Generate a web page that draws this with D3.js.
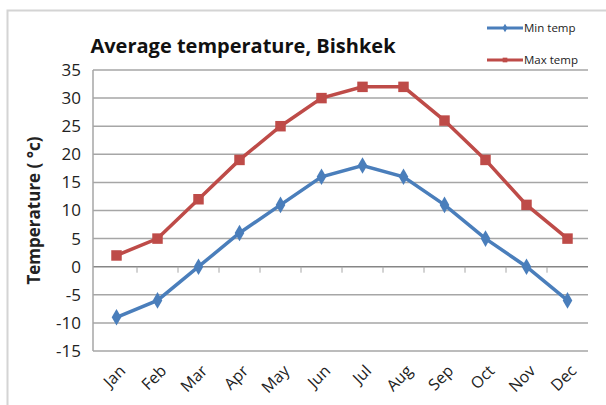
<!DOCTYPE html>
<html>
<head>
<meta charset="utf-8">
<script src="https://cdn.jsdelivr.net/npm/d3@7"></script>
<style>
  body { margin: 0; background: #fff; }
  svg text { font-family: "Open Sans", sans-serif; }
</style>
</head>
<body>
<div id="myChart"></div>
<script>
const months = ["Jan", "Feb", "Mar", "Apr", "May", "Jun", "Jul", "Aug", "Sep", "Oct", "Nov", "Dec"]
const minTemp = [-9, -6, 0, 6, 11, 16, 18, 16, 11, 5, 0, -6]
const maxTemp = [2, 5, 12, 19, 25, 30, 32, 32, 26, 19, 11, 5]
const yTicks = [-15, -10, -5, 0, 5, 10, 15, 20, 25, 30, 35]

let width = 606
let height = 405

let svg = d3.select("#myChart")
  .append("svg")
  .attr("width", width)
  .attr("height", height)

// chart area frame
svg.append("rect")
  .attr("x", 7.5).attr("y", 10.5)
  .attr("width", 620).attr("height", 420)
  .attr("fill", "#fff")
  .attr("stroke", "#d4d4d4")
  .attr("stroke-width", 2)

let x = d3.scaleBand()
  .domain(months)
  .range([96, 588])

let y = d3.scaleLinear()
  .domain([-15, 35])
  .range([351, 70])

// gridlines
svg.append("g")
  .selectAll("line")
  .data(yTicks)
  .enter().append("line")
  .attr("x1", 93).attr("x2", 588)
  .attr("y1", d => y(d)).attr("y2", d => y(d))
  .attr("stroke", d => d == 0 ? "#868686" : "#a6a6a6")
  .attr("stroke-width", 1.5)

// plot area left edge
svg.append("line")
  .attr("x1", 93).attr("x2", 93)
  .attr("y1", y(35)).attr("y2", y(-15))
  .attr("stroke", "#a6a6a6")
  .attr("stroke-width", 1.5)

// y axis labels
svg.append("g")
  .selectAll("text")
  .data(yTicks)
  .enter().append("text")
  .attr("x", 81)
  .attr("y", d => y(d))
  .attr("dy", "0.35em")
  .attr("text-anchor", "end")
  .style("font-size", "17px")
  .style("fill", "#222")
  .text(d => d)

// x ticks at category boundaries on the zero line
svg.append("g")
  .selectAll("line")
  .data(months.slice(1))
  .enter().append("line")
  .attr("x1", d => x(d)).attr("x2", d => x(d))
  .attr("y1", y(0)).attr("y2", y(0) + 6)
  .attr("stroke", "#a6a6a6")
  .attr("stroke-width", 1)

// x labels, rotated
svg.append("g")
  .selectAll("text")
  .data(months)
  .enter().append("text")
  .attr("transform", d => `translate(${x(d) + x.bandwidth() / 2 + 2},${364}) rotate(-45)`)
  .attr("text-anchor", "end")
  .attr("dy", "0.7em")
  .style("font-size", "16px")
  .style("fill", "#222")
  .text(d => d)

// axis title
svg.append("text")
  .attr("transform", `translate(40,${(y(35) + y(-15)) / 2}) rotate(-90)`)
  .attr("text-anchor", "middle")
  .style("font-size", "17px")
  .style("font-weight", "bold")
  .style("fill", "#222")
  .text("Temperature ( °c)")

// title
svg.append("text")
  .attr("x", 243).attr("y", 53)
  .attr("text-anchor", "middle")
  .style("font-size", "20px")
  .style("font-weight", "bold")
  .style("fill", "#111")
  .text("Average temperature, Bishkek")

let line = d3.line()
  .x((d, i) => x(months[i]) + x.bandwidth() / 2)
  .y(d => y(d))

const series = [
  { name: "Min temp", values: minTemp, color: "#4a7ebb", shape: d3.symbolDiamond, size: 80 },
  { name: "Max temp", values: maxTemp, color: "#be4b48", shape: d3.symbolSquare, size: 110 }
]

series.forEach(s => {
  svg.append("path")
    .attr("d", line(s.values))
    .attr("fill", "none")
    .attr("stroke", s.color)
    .attr("stroke-width", 3.5)

  svg.append("g")
    .selectAll("path")
    .data(s.values)
    .enter().append("path")
    .attr("transform", (d, i) => `translate(${x(months[i]) + x.bandwidth() / 2},${y(d)})`)
    .attr("d", d3.symbol().type(s.shape).size(s.size))
    .attr("fill", s.color)
})

// legend
let legend = svg.append("g")
  .selectAll("g")
  .data(series)
  .enter().append("g")
  .attr("transform", (d, i) => `translate(487,${28 + i * 32})`)

legend.append("line")
  .attr("x1", 0).attr("x2", 36)
  .attr("stroke", d => d.color)
  .attr("stroke-width", 3)

legend.append("path")
  .attr("transform", "translate(18,0)")
  .attr("d", d => d3.symbol().type(d.shape).size(22)())
  .attr("fill", d => d.color)

legend.append("text")
  .attr("x", 37).attr("dy", "0.35em")
  .style("font-size", "11.5px")
  .style("fill", "#222")
  .text(d => d.name)
</script>
</body>
</html>
